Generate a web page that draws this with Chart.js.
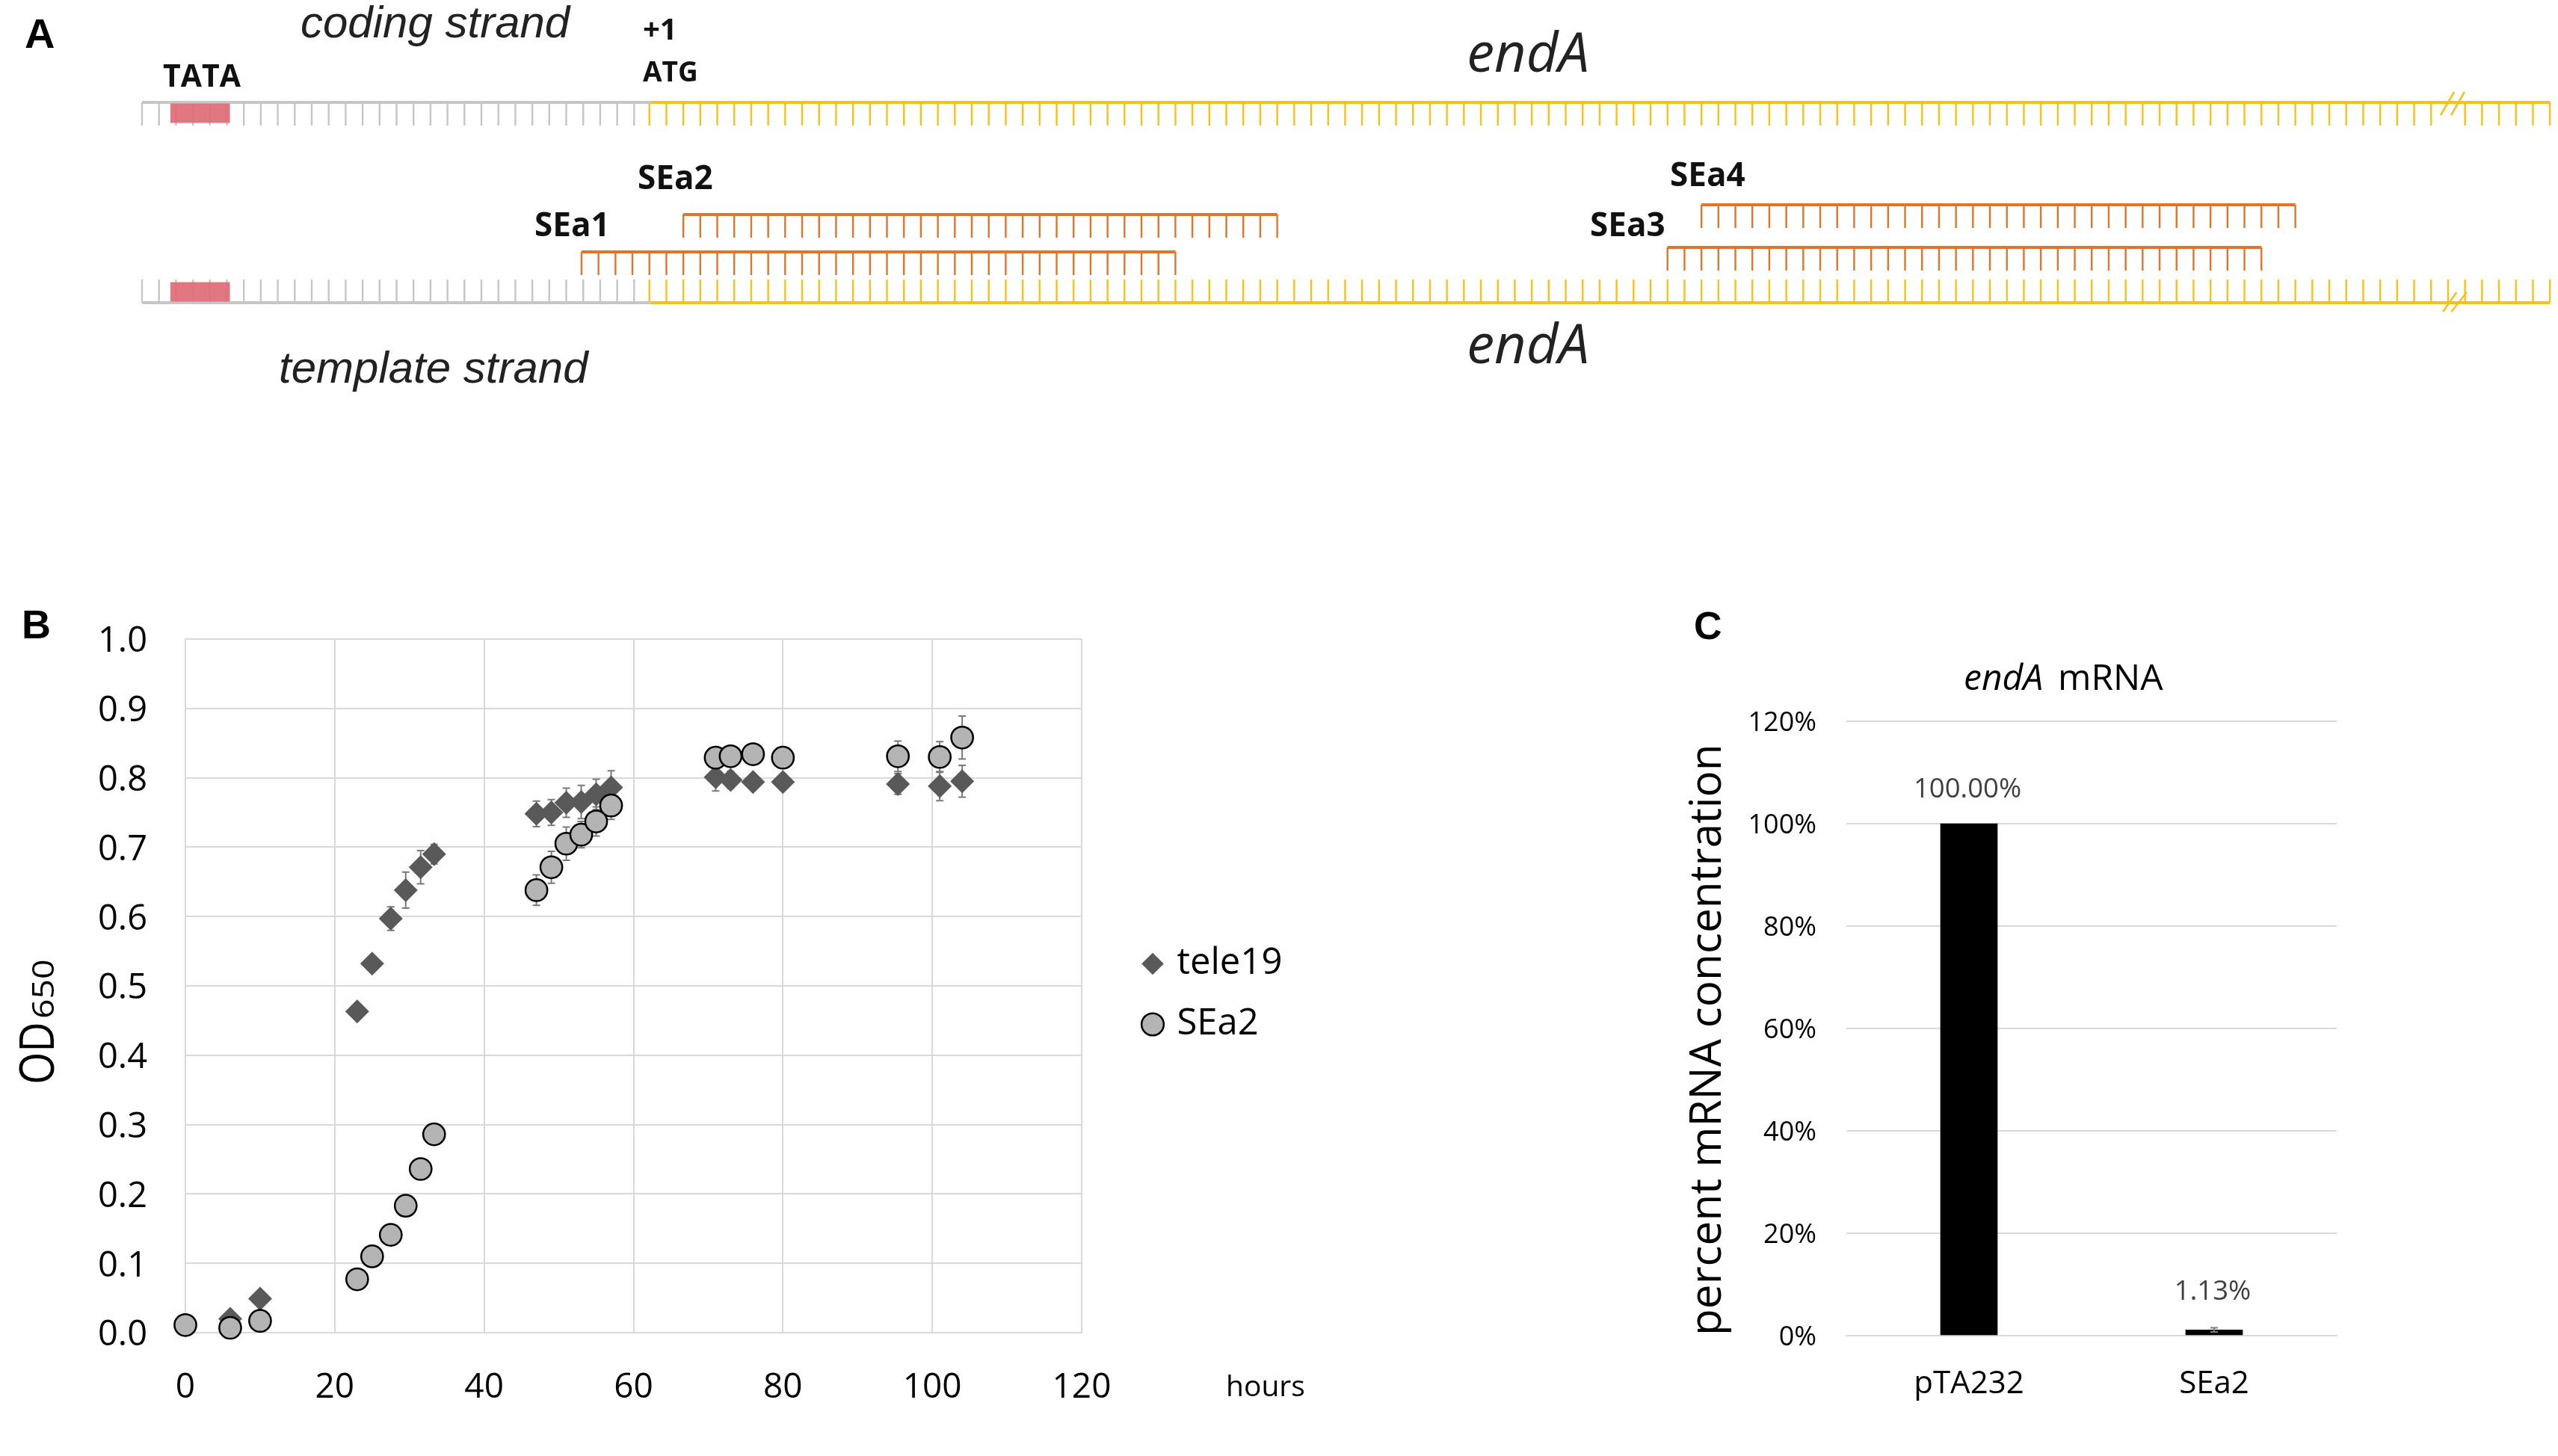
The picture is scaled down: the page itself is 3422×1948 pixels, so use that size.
<!DOCTYPE html>
<html>
<head>
<meta charset="utf-8">
<style>
html,body{margin:0;padding:0;background:#fff;width:3422px;height:1948px;overflow:hidden}
canvas{position:absolute;display:block}
</style>
<script src="https://cdn.jsdelivr.net/npm/chart.js@4/dist/chart.umd.min.js"></script>
</head>
<body>
<canvas id="a" width="3422" height="560" style="left:0;top:0;width:3422px;height:560px"></canvas>
<canvas id="b" width="1800" height="1178" style="left:0;top:770px;width:1800px;height:1178px"></canvas>
<canvas id="c" width="1000" height="1150" style="left:2200px;top:790px;width:1000px;height:1150px"></canvas>
<script>
// ---------- Panel A: strand schematic (x = nucleotide tooth index, y = lane) ----------
const combNames  = ['coding promoter','coding endA','template promoter','template endA','SEa1','SEa2','SEa3','SEa4'];
const combStart  = [0, 29.9, 0, 29.9, 25.9, 31.9, 89.9, 91.9];
const combTeeth  = [30, 112, 30, 112, 35, 35, 35, 35];
const combLane   = [13.7, 13.7, 40.5, 40.5, 33.7, 28.7, 33.1, 27.4];
const combSide   = [1, 1, -1, -1, 1, 1, 1, 1];
const combKind   = ['promoter','gene','promoter','gene','oligo','oligo','oligo','oligo'];
const codingBreakTooth = 106;
const tataRange  = [1.67, 5.18];
const tataLanes  = [15.15, 39.05];
const breakMarks = [
  [[135.46,15.4],[136.26,12.3]], [[136.08,15.4],[136.87,12.3]],
  [[135.6,41.7],[136.4,39.1]],   [[136.1,41.7],[137.0,39.1]]
];

// ---------- Panel B: growth curves ----------
const tele19Hours = [6,10,23,25,27.5,29.5,31.5,33.3,47,49,51,53,55,57,71,73,76,80,95.4,101,104];
const tele19OD    = [0.02,0.049,0.463,0.532,0.597,0.638,0.671,0.69,0.748,0.75,0.764,0.765,0.776,0.786,0.801,0.797,0.794,0.794,0.791,0.788,0.795];
const tele19Err   = [0,0,0,0,0.017,0.026,0.024,0.014,0.0185,0.0185,0.021,0.024,0.022,0.024,0.02,0.012,0.01,0.01,0.015,0.021,0.023];
const sea2Hours   = [0,6,10,23,25,27.5,29.5,31.5,33.3,47,49,51,53,55,57,71,73,76,80,95.4,101,104];
const sea2OD      = [0.011,0.007,0.017,0.077,0.11,0.141,0.183,0.236,0.286,0.638,0.671,0.705,0.718,0.737,0.76,0.829,0.831,0.834,0.829,0.831,0.83,0.858];
const sea2Err     = [0,0,0,0,0,0,0,0,0,0.022,0.023,0.024,0.019,0.021,0.02,0.012,0.01,0.01,0.01,0.022,0.022,0.031];
const odTicks     = [0,0.1,0.2,0.3,0.4,0.5,0.6,0.7,0.8,0.9,1.0];
const hourTicks   = [0,20,40,60,80,100,120];

// ---------- Panel C: mRNA ----------
const mrnaCategories = ['pTA232','SEa2'];
const mrnaValues     = [100, 1.13];
const mrnaErr        = [0, 0.4];
const mrnaLabels     = ['100.00%','1.13%'];

// ---------- Shared helpers ----------
const SANS = '"Open Sans"';
const ARIAL = '"Liberation Sans"';
Chart.defaults.font.family = SANS;
Chart.defaults.color = '#000';

function notesPlugin(list){
  return { id:'notes', afterDraw(chart){
    const ctx = chart.ctx;
    list.forEach(n=>{
      ctx.save();
      ctx.translate(n.x,n.y);
      if(n.rot) ctx.rotate(n.rot);
      if(n.sx) ctx.scale(n.sx,1);
      ctx.font = n.font;
      ctx.fillStyle = n.color || '#000';
      ctx.textAlign = n.align || 'left';
      ctx.textBaseline = 'alphabetic';
      ctx.fillText(n.text,0,0);
      ctx.restore();
    });
  }};
}
function whiskers(chart, xs, ys, errs, xScale, yScale){
  const ctx = chart.ctx, x = chart.scales[xScale], y = chart.scales[yScale];
  ctx.save();
  ctx.strokeStyle = '#7a7a7a'; ctx.lineWidth = 2;
  xs.forEach((h,i)=>{
    if(!errs[i]) return;
    const px = x.getPixelForValue(h), hi = y.getPixelForValue(ys[i]+errs[i]), lo = y.getPixelForValue(ys[i]-errs[i]);
    ctx.beginPath();
    ctx.moveTo(px,hi); ctx.lineTo(px,lo);
    ctx.moveTo(px-5,hi); ctx.lineTo(px+5,hi);
    ctx.moveTo(px-5,lo); ctx.lineTo(px+5,lo);
    ctx.stroke();
  });
  ctx.restore();
}
// Adjust layout padding until the plot area sits on the wanted canvas box.
function pinArea(chart, box){
  for(let i=0;i<4;i++){
    const a = chart.chartArea, p = chart.options.layout.padding;
    p.left   += box.left - a.left;
    p.top    += box.top - a.top;
    p.right  += a.right - box.right;
    p.bottom += a.bottom - box.bottom;
    chart.update('none');
  }
}

// ---------- Panel A chart ----------
const kindColor = {promoter:'#c6c6c6', gene:'#fbc018', oligo:'#e2742a'};
const aDatasets = [];
const rangeLine = (pts,color,w)=>({type:'line',data:pts.map(p=>({x:p[0],y:p[1]})),borderColor:color,borderWidth:w,borderCapStyle:'butt',pointRadius:0,fill:false,clip:false});
tataLanes.forEach(l=>aDatasets.push(rangeLine([[tataRange[0],l],[tataRange[1],l]],'rgba(222,108,118,0.92)',26)));
breakMarks.forEach(b=>aDatasets.push(rangeLine(b,kindColor.gene,2.5)));
combNames.forEach((name,i)=>{
  const s=combStart[i], n=combTeeth[i], lane=combLane[i], side=combSide[i], color=kindColor[combKind[i]];
  const teeth=[];
  for(let k=0;k<(combKind[i]==='promoter'?n:n+1);k++){
    if(i===1 && k===codingBreakTooth) continue;
    teeth.push({x:s+k,y:lane+side*1.55});
  }
  aDatasets.push(rangeLine([[s,lane],[s+n,lane]],color,4));
  aDatasets.push({type:'scatter',label:name,data:teeth,showLine:false,pointStyle:'line',pointRotation:90,pointRadius:15.5,pointBorderWidth:2.4,pointBorderColor:color,pointBackgroundColor:color,clip:false});
});
const chartA = new Chart(document.getElementById('a'),{
  type:'scatter',
  data:{datasets:aDatasets},
  options:{responsive:false,animation:false,devicePixelRatio:1,
    layout:{padding:{left:20,top:20,right:20,bottom:20}},
    plugins:{legend:{display:false},tooltip:{enabled:false}},
    scales:{
      x:{type:'linear',display:false,min:(20-190)/22.7,max:(3402-190)/22.7},
      y:{type:'linear',display:false,min:2,max:54,reverse:true}
    }},
  plugins:[notesPlugin([
    {text:'A',x:33,y:64,font:`bold 56px ${ARIAL}`},
    {text:'coding strand',x:402,y:50,font:`italic 60px ${ARIAL}`,color:'#222'},
    {text:'template strand',x:373,y:512,font:`italic 60px ${ARIAL}`,color:'#222'},
    {text:'TATA',x:218,y:116,font:`bold 41px ${SANS}`,color:'#111'},
    {text:'+1',x:860,y:53,font:`bold 40px ${SANS}`,color:'#111'},
    {text:'ATG',x:860,y:109,font:`bold 37px ${SANS}`,color:'#111'},
    {text:'SEa2',x:853,y:253,font:`bold 44px ${SANS}`,color:'#111'},
    {text:'SEa1',x:715,y:316,font:`bold 44px ${SANS}`,color:'#111'},
    {text:'SEa4',x:2234,y:249,font:`bold 44px ${SANS}`,color:'#111'},
    {text:'SEa3',x:2127,y:316,font:`bold 44px ${SANS}`,color:'#111'},
    {text:'endA',x:2044,y:96,font:`italic 74px ${SANS}`,align:'center',color:'#222'},
    {text:'endA',x:2044,y:486,font:`italic 74px ${SANS}`,align:'center',color:'#222'}
  ])]
});
pinArea(chartA,{left:20,top:20,right:3402,bottom:540});

// ---------- Panel B chart ----------
const toPts=(xs,ys)=>xs.map((x,i)=>({x,y:ys[i]}));
const gridColor='#d9d9d9';
const chartB = new Chart(document.getElementById('b'),{
  type:'scatter',
  data:{datasets:[
    {label:'tele19',order:1,data:toPts(tele19Hours,tele19OD),pointStyle:'rectRot',pointRadius:16,pointBackgroundColor:'#595959',pointBorderColor:'#595959',pointBorderWidth:0,clip:false},
    {label:'SEa2',order:0,data:toPts(sea2Hours,sea2OD),pointStyle:'circle',pointRadius:14.6,pointBackgroundColor:'#b4b4b4',pointBorderColor:'#000',pointBorderWidth:2.5,clip:false}
  ]},
  options:{responsive:false,animation:false,devicePixelRatio:1,
    layout:{padding:{left:0,top:85,right:100,bottom:64}},
    plugins:{tooltip:{enabled:false},
      legend:{position:'right',align:'start',
        labels:{usePointStyle:true,boxWidth:16,boxHeight:21,padding:32,color:'#000',font:{size:49,family:SANS},sort:(a,b)=>a.datasetIndex-b.datasetIndex}}},
    scales:{
      x:{type:'linear',min:0,max:120,
        afterBuildTicks:s=>{s.ticks=hourTicks.map(v=>({value:v}));},
        afterFit:s=>{s.height=100;},
        grid:{color:gridColor,lineWidth:2,drawTicks:false},border:{color:gridColor,width:2},
        ticks:{autoSkip:false,maxRotation:0,padding:46,color:'#000',font:{size:46,family:SANS}}},
      y:{type:'linear',min:0,max:1,
        afterBuildTicks:s=>{s.ticks=odTicks.map(v=>({value:v}));},
        afterFit:s=>{s.width=248;},
        grid:{color:gridColor,lineWidth:2,drawTicks:false},border:{color:gridColor,width:2},
        ticks:{autoSkip:false,padding:51,labelOffset:4,color:'#000',font:{size:47,family:SANS},callback:v=>Number(v).toFixed(1)}}
    }},
  plugins:[
    {id:'placeLegend',beforeDraw(chart){
      const l=chart.legend;
      l.left=1502;l.top=463;l.right=1800;l.bottom=740;
    }},
    {id:'errB',beforeDatasetsDraw(chart){
      whiskers(chart,tele19Hours,tele19OD,tele19Err,'x','y');
      whiskers(chart,sea2Hours,sea2OD,sea2Err,'x','y');
    }},
    notesPlugin([
      {text:'B',x:29,y:84,font:`bold 54px ${ARIAL}`},
      {text:'hours',x:1640,y:1098,font:`39px ${SANS}`},
      {text:'OD',x:72,y:681,rot:-Math.PI/2,font:`64px ${SANS}`,sx:0.87},
      {text:'650',x:72,y:593,rot:-Math.PI/2,font:`40px ${SANS}`,sx:1.16}
    ])
  ]
});
pinArea(chartB,{left:248,top:85,right:1447,bottom:1013});

// ---------- Panel C chart ----------
const labelLift = [45,51];
const chartC = new Chart(document.getElementById('c'),{
  type:'bar',
  data:{labels:mrnaCategories,datasets:[{label:'endA mRNA',data:mrnaValues,backgroundColor:'#000',barThickness:76}]},
  options:{responsive:false,animation:false,devicePixelRatio:1,
    layout:{padding:{left:0,top:175,right:74,bottom:63}},
    plugins:{legend:{display:false},tooltip:{enabled:false}},
    scales:{
      x:{type:'category',afterFit:s=>{s.height=90;},
        grid:{display:false,drawTicks:false},border:{color:gridColor,width:2},
        ticks:{padding:40,color:'#000',font:{size:42,family:SANS},maxRotation:0}},
      y:{type:'linear',min:0,max:120,afterFit:s=>{s.width=270;},
        grid:{color:gridColor,lineWidth:2,drawTicks:false},border:{display:false},
        title:{display:true,text:'percent mRNA concentration',align:'start',color:'#000',font:{size:58.5,family:SANS},padding:{top:50,bottom:0}},
        ticks:{stepSize:20,padding:40,labelOffset:3,color:'#000',font:{size:36,family:SANS},callback:v=>v+'%'}}
    }},
  plugins:[
    {id:'errC',afterDatasetsDraw(chart){
      const meta=chart.getDatasetMeta(0);
      const ctx=chart.ctx;
      whiskers(chart,[1],[mrnaValues[1]],[mrnaErr[1]],'x','y');
      ctx.save();
      ctx.font=`36.5px ${SANS}`;ctx.fillStyle='#404040';ctx.textAlign='center';ctx.textBaseline='middle';
      meta.data.forEach((bar,i)=>ctx.fillText(mrnaLabels[i],bar.x-2,bar.y-labelLift[i]));
      ctx.restore();
    }},
    notesPlugin([
      {text:'C',x:66,y:65,font:`bold 52px ${ARIAL}`},
      {text:'endA',x:427,y:133,font:`italic 48px ${SANS}`},
      {text:'mRNA',x:553,y:133,font:`48px ${SANS}`}
    ])
  ]
});
pinArea(chartC,{left:270,top:175,right:926,bottom:997});
</script>
</body>
</html>
